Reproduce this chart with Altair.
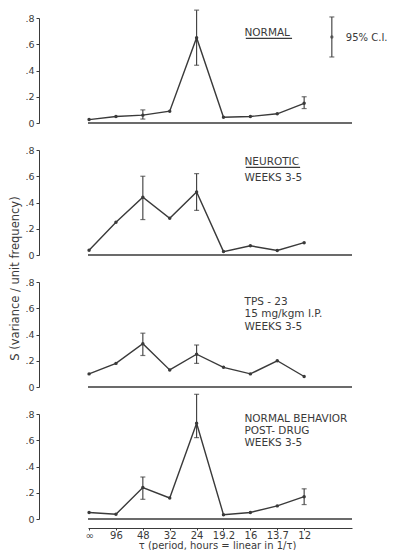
import altair as alt
import pandas as pd

# ---- data ----
x_labels = ["∞", "96", "48", "32", "24", "19.2", "16", "13.7", "12"]
x_index = list(range(9))

normal_s = [0.026, 0.05, 0.06, 0.09, 0.65, 0.044, 0.05, 0.07, 0.15]
normal_err_x = [2, 4, 8]
normal_err_lo = [0.03, 0.44, 0.11]
normal_err_hi = [0.10, 0.86, 0.20]

neurotic_s = [0.036, 0.25, 0.44, 0.28, 0.48, 0.026, 0.07, 0.034, 0.094]
neurotic_err_x = [2, 4]
neurotic_err_lo = [0.27, 0.34]
neurotic_err_hi = [0.60, 0.62]

tps_s = [0.10, 0.18, 0.33, 0.13, 0.25, 0.15, 0.10, 0.20, 0.08]
tps_err_x = [2, 4]
tps_err_lo = [0.24, 0.18]
tps_err_hi = [0.41, 0.32]

post_s = [0.05, 0.036, 0.24, 0.16, 0.73, 0.033, 0.05, 0.10, 0.17]
post_err_x = [2, 4, 8]
post_err_lo = [0.15, 0.62, 0.11]
post_err_hi = [0.32, 0.95, 0.23]

y_ticks = [0, 0.2, 0.4, 0.6, 0.8]
y_title = "S (variance / unit frequency)"
x_title = "τ (period, hours = linear in 1/τ)"

ink = "#3a3a3a"
FONT = "DejaVu Sans"
W, H = 264, 105

xscale = alt.Scale(domain=[-0.04, 9.78], nice=False, zero=False)
yscale = alt.Scale(domain=[0, 0.8], nice=False, zero=False)

label_expr_x = "[" + ",".join("'" + s + "'" for s in x_labels) + "][datum.value]"
label_expr_y = "datum.value == 0 ? '0' : replace(format(datum.value, '.1f'), '0.', '.')"


def make_panel(values, ex, elo, ehi, lines, line_y, underline=None, bottom=False,
               with_title=False, legend=False):
    yaxis_kw = dict(values=y_ticks, labelExpr=label_expr_y, offset=49, tickSize=3,
                    domainColor=ink, tickColor=ink, labelColor=ink, labelFontSize=9.5,
                    labelFont=FONT, grid=False, labelPadding=2)
    if with_title:
        yaxis = alt.Axis(title=y_title, titleFont=FONT, titleFontSize=11.5,
                         titleFontWeight="normal", titleColor=ink, titleY=128,
                         titlePadding=4, **yaxis_kw)
    else:
        yaxis = alt.Axis(title="", **yaxis_kw)
    if bottom:
        xaxis = alt.Axis(
            values=x_index, labelExpr=label_expr_x, offset=9, tickSize=2,
            domainColor=ink, tickColor=ink, labelColor=ink, labelFontSize=10,
            labelFont=FONT, grid=False, labelPadding=0, title=x_title,
            titleFont=FONT, titleFontSize=10, titleFontWeight="normal",
            titleColor=ink, titleX=129, titlePadding=0)
    else:
        xaxis = None

    def X(f):
        return alt.X(f, scale=xscale, axis=xaxis)

    def Y(f):
        return alt.Y(f, scale=yscale, axis=yaxis)

    df = pd.DataFrame({"x": x_index, "s": values})
    line = alt.Chart(df).mark_line(
        color=ink, strokeWidth=1.4,
        point=alt.OverlayMarkDef(filled=True, size=12, color=ink)).encode(
        x=X("x:Q"), y=Y("s:Q"))

    baseline = alt.Chart(pd.DataFrame({"z": [0]})).mark_rule(
        color=ink, strokeWidth=1.3).encode(y=Y("z:Q"))

    edf = pd.DataFrame({"x": ex, "lo": elo, "hi": ehi})
    ebar = alt.Chart(edf).mark_rule(color=ink, strokeWidth=1.1).encode(
        x=X("x:Q"), y=Y("lo:Q"), y2="hi:Q")
    caps = alt.Chart(edf).transform_fold(["lo", "hi"], as_=["k", "v"]).mark_tick(
        color=ink, orient="horizontal", size=5, thickness=1.2).encode(
        x=X("x:Q"), y=Y("v:Q"))

    tdf = pd.DataFrame({"x": [5.78] * len(lines), "y": line_y, "t": lines})
    text = alt.Chart(tdf).mark_text(align="left", baseline="alphabetic", font=FONT,
                                    fontSize=10.5, color=ink).encode(
        x=X("x:Q"), y=Y("y:Q"), text="t:N")

    layers = [baseline, ebar, caps, line, text]
    if underline is not None:
        udf = pd.DataFrame({"x": [underline[0]], "x2": [underline[1]], "y": [underline[2]]})
        layers.append(alt.Chart(udf).mark_rule(color=ink, strokeWidth=1.2).encode(
            x=X("x:Q"), x2="x2:Q", y=Y("y:Q")))
    if legend:
        ldf = pd.DataFrame({"x": [9.03], "lo": [0.503], "hi": [0.808], "m": [0.655]})
        layers.append(alt.Chart(ldf).mark_rule(color=ink, strokeWidth=1.1).encode(
            x=X("x:Q"), y=Y("lo:Q"), y2="hi:Q"))
        layers.append(alt.Chart(ldf).transform_fold(["lo", "hi"], as_=["k", "v"]).mark_tick(
            color=ink, orient="horizontal", size=5, thickness=1.2).encode(
            x=X("x:Q"), y=Y("v:Q")))
        layers.append(alt.Chart(ldf).mark_point(filled=True, size=12, color=ink).encode(
            x=X("x:Q"), y=Y("m:Q")))
        layers.append(alt.Chart(pd.DataFrame({"x": [9.55], "y": [0.625], "t": ["95% C.I."]}))
                      .mark_text(align="left", baseline="alphabetic", font=FONT,
                                 fontSize=10, color=ink).encode(
            x=X("x:Q"), y=Y("y:Q"), text="t:N"))
    return alt.layer(*layers).properties(width=W, height=H)


p1 = make_panel(normal_s, normal_err_x, normal_err_lo, normal_err_hi,
                ["NORMAL"], [0.663], underline=(5.83, 7.55, 0.645), legend=True)
p2 = make_panel(neurotic_s, neurotic_err_x, neurotic_err_lo, neurotic_err_hi,
                ["NEUROTIC", "WEEKS 3-5"], [0.686, 0.564], underline=(5.83, 7.85, 0.668),
                with_title=True)
p3 = make_panel(tps_s, tps_err_x, tps_err_lo, tps_err_hi,
                ["TPS - 23", "15 mg/kgm I.P.", "WEEKS 3-5"], [0.625, 0.53, 0.434])
p4 = make_panel(post_s, post_err_x, post_err_lo, post_err_hi,
                ["NORMAL BEHAVIOR", "POST- DRUG", "WEEKS 3-5"], [0.739, 0.648, 0.556],
                bottom=True)

chart = alt.vconcat(p1, p2, p3, p4, spacing=27, bounds="flush").properties(
    padding={"left": 1, "top": 1, "right": 0, "bottom": 0},
    background="white",
).configure_view(strokeWidth=0)

chart.save("out.html", embed_options={"renderer": "svg", "actions": False})
